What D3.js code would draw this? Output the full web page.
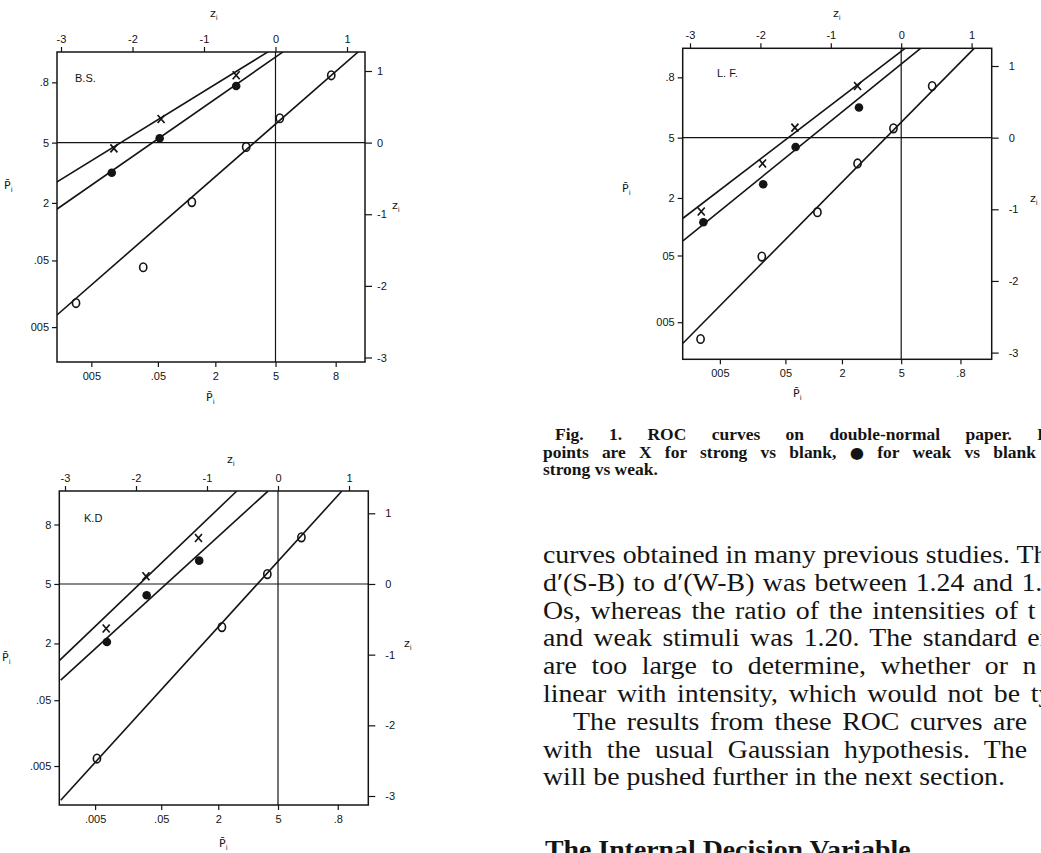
<!DOCTYPE html>
<html>
<head>
<meta charset="utf-8">
<script src="https://cdn.jsdelivr.net/npm/d3@7"></script>
<style>
  body { margin: 0; background: #fff; }
  svg { display: block; }
</style>
</head>
<body>
<script>
// axis ticks
const zTicks = [-3, -2, -1, 0, 1];
const pTicks = [0.005, 0.05, 0.2, 0.5, 0.8];

// tick labels as printed (order of pTicks)
const bsBottomLabels = ["005", ".05", "2", "5", "8"];
const bsLeftLabels = ["005", ".05", "2", "5", ".8"];
const lfBottomLabels = ["005", "05", "2", "5", ".8"];
const lfLeftLabels = ["005", "05", "2", "5", ".8"];
const kdBottomLabels = [".005", ".05", "2", "5", ".8"];
const kdLeftLabels = [".005", ".05", "2", "5", "8"];

// points in normal-deviate units [z(false alarm), z(hit)]
const bsStrongBlank = [[-2.26, -0.08], [-1.60, 0.33], [-0.55, 0.94]];
const bsWeakBlank = [[-2.29, -0.42], [-1.62, 0.06], [-0.55, 0.79]];
const bsStrongWeak = [[-2.79, -2.24], [-1.85, -1.74], [-1.17, -0.83], [-0.41, -0.06], [0.06, 0.34], [0.78, 0.94]];
const bsFitStrongBlank = [[-3.06, -0.55], [-0.10, 1.27]];
const bsFitWeakBlank = [[-3.06, -0.93], [0.11, 1.27]];
const bsFitStrongWeak = [[-3.06, -2.41], [1.16, 1.27]];

const lfStrongBlank = [[-2.84, -1.03], [-1.97, -0.36], [-1.51, 0.14], [-0.62, 0.72]];
const lfWeakBlank = [[-2.81, -1.18], [-1.96, -0.65], [-1.50, -0.13], [-0.60, 0.42]];
const lfStrongWeak = [[-2.85, -2.81], [-1.98, -1.66], [-1.19, -1.04], [-0.62, -0.36], [-0.11, 0.13], [0.44, 0.72]];
const lfFitStrongBlank = [[-3.10, -1.125], [0.06, 1.25]];
const lfFitWeakBlank = [[-3.10, -1.44], [0.28, 1.25]];
const lfFitStrongWeak = [[-3.10, -2.87], [1.04, 1.25]];

const kdStrongBlank = [[-2.42, -0.63], [-1.86, 0.11], [-1.12, 0.65]];
const kdWeakBlank = [[-2.41, -0.82], [-1.85, -0.16], [-1.11, 0.33]];
const kdStrongWeak = [[-2.55, -2.47], [-0.79, -0.61], [-0.15, 0.14], [0.33, 0.66]];
const kdFitStrongBlank = [[-3.08, -1.085], [-0.58, 1.315]];
const kdFitWeakBlank = [[-3.06, -1.36], [-0.14, 1.315]];
const kdFitStrongWeak = [[-3.06, -3.06], [0.90, 1.315]];

var ink = "#141414";

// normal cdf (A&S 7.1.26) and its inverse by bisection
function normCdf(z) {
  var x = Math.abs(z) / Math.SQRT2;
  var t = 1 / (1 + 0.3275911 * x);
  var e = 1 - ((((1.061405429 * t - 1.453152027) * t + 1.421413741) * t - 0.284496736) * t + 0.254829592) * t * Math.exp(-x * x);
  return z >= 0 ? (1 + e) / 2 : (1 - e) / 2;
}
function probit(p) {
  var lo = -6, hi = 6;
  for (var i = 0; i < 60; i++) {
    var m = (lo + hi) / 2;
    if (normCdf(m) < p) lo = m; else hi = m;
  }
  return (lo + hi) / 2;
}

var svg = d3.select("body").append("svg")
  .attr("width", 1041)
  .attr("height", 853);

var panels = [
  {
    id: "bs", name: "B.S.", box: [57, 52, 365, 362], xr: [61, 347], yr: [357.5, 71],
    pts: [bsStrongBlank, bsWeakBlank, bsStrongWeak],
    fits: [bsFitStrongBlank, bsFitWeakBlank, bsFitStrongWeak],
    bottomLabels: bsBottomLabels, leftLabels: bsLeftLabels, rightPad: 5,
    namePos: [75, 82], topTitle: [210, 17], leftTitle: [4, 189], bottomTitle: [206, 401], rightTitle: [392, 209]
  },
  {
    id: "lf", name: "L. F.", box: [682.7, 48.3, 991.7, 359.3], xr: [690, 971.6], yr: [352.6, 66],
    pts: [lfStrongBlank, lfWeakBlank, lfStrongWeak],
    fits: [lfFitStrongBlank, lfFitWeakBlank, lfFitStrongWeak],
    bottomLabels: lfBottomLabels, leftLabels: lfLeftLabels, rightPad: 10,
    namePos: [717, 77], topTitle: [833, 17], leftTitle: [622, 192], bottomTitle: [793, 397], rightTitle: [1030, 202]
  },
  {
    id: "kd", name: "K.D", box: [59.3, 491, 368.3, 805], xr: [65, 349], yr: [796, 513.3],
    pts: [kdStrongBlank, kdWeakBlank, kdStrongWeak],
    fits: [kdFitStrongBlank, kdFitWeakBlank, kdFitStrongWeak],
    bottomLabels: kdBottomLabels, leftLabels: kdLeftLabels, rightPad: 10,
    namePos: [84, 522], topTitle: [227, 463], leftTitle: [2, 661], bottomTitle: [219, 847], rightTitle: [404, 647]
  }
];

function title(g, pos, letter, bar) {
  var t = g.append("text")
    .attr("x", pos[0]).attr("y", pos[1])
    .attr("font-family", "DejaVu Sans, sans-serif")
    .attr("font-size", 11)
    .attr("fill", ink);
  t.append("tspan").text(bar ? letter + "\u0304" : letter);
  t.append("tspan").attr("dy", 3).attr("font-size", 7).text("i");
}

function styleAxis(a) {
  a.select(".domain").remove();
  a.selectAll(".tick line").attr("stroke", ink).attr("stroke-width", 1.2);
  a.selectAll(".tick text")
    .attr("fill", ink)
    .attr("font-family", "Liberation Sans, Arial, sans-serif")
    .attr("font-size", 11);
}

function drawPanel(p) {
  var x = d3.scaleLinear().domain([-3, 1]).range(p.xr);
  var y = d3.scaleLinear().domain([-3, 1]).range(p.yr);
  var left = p.box[0], top = p.box[1], right = p.box[2], bottom = p.box[3];
  var g = svg.append("g").attr("class", "panel-" + p.id);

  g.append("clipPath").attr("id", "clip-" + p.id)
    .append("rect")
    .attr("x", left).attr("y", top)
    .attr("width", right - left).attr("height", bottom - top);

  var pz = pTicks.map(probit);

  var topAx = g.append("g").attr("transform", "translate(0," + top + ")")
    .call(d3.axisTop(x).tickValues(zTicks).tickSize(5).tickPadding(4)
      .tickFormat(function(d) { return String(d); }));
  styleAxis(topAx);

  var rightAx = g.append("g").attr("transform", "translate(" + right + ",0)")
    .call(d3.axisRight(y).tickValues(zTicks).tickSize(7).tickPadding(p.rightPad)
      .tickFormat(function(d) { return String(d); }));
  styleAxis(rightAx);

  var bottomAx = g.append("g").attr("transform", "translate(0," + bottom + ")")
    .call(d3.axisBottom(x).tickValues(pz).tickSize(5).tickPadding(5)
      .tickFormat(function(d, i) { return p.bottomLabels[i]; }));
  styleAxis(bottomAx);

  var leftAx = g.append("g").attr("transform", "translate(" + left + ",0)")
    .call(d3.axisLeft(y).tickValues(pz).tickSize(5).tickPadding(3)
      .tickFormat(function(d, i) { return p.leftLabels[i]; }));
  styleAxis(leftAx);

  // frame and the z = 0 cross
  g.append("rect")
    .attr("x", left).attr("y", top)
    .attr("width", right - left).attr("height", bottom - top)
    .attr("fill", "none").attr("stroke", ink).attr("stroke-width", 1.5);
  g.append("line")
    .attr("x1", left).attr("x2", right).attr("y1", y(0)).attr("y2", y(0))
    .attr("stroke", ink).attr("stroke-width", 1.2);
  g.append("line")
    .attr("x1", x(0)).attr("x2", x(0)).attr("y1", top).attr("y2", bottom)
    .attr("stroke", ink).attr("stroke-width", 1.2);

  var line = d3.line().x(function(d) { return x(d[0]); }).y(function(d) { return y(d[1]); });
  g.append("g").attr("clip-path", "url(#clip-" + p.id + ")")
    .selectAll("path.fit")
    .data(p.fits)
    .enter()
    .append("path")
    .attr("class", "fit")
    .attr("d", line)
    .attr("fill", "none")
    .attr("stroke", ink)
    .attr("stroke-width", 1.6);

  // X for strong vs blank
  g.selectAll(".markX")
    .data(p.pts[0])
    .enter()
    .append("path")
    .attr("class", "markX")
    .attr("transform", function(d) { return "translate(" + x(d[0]) + "," + y(d[1]) + ")"; })
    .attr("d", "M-3.5,-4L3.5,4M3.5,-4L-3.5,4")
    .attr("stroke", ink)
    .attr("stroke-width", 1.7);

  // filled dot for weak vs blank
  g.selectAll(".markDot")
    .data(p.pts[1])
    .enter()
    .append("circle")
    .attr("class", "markDot")
    .attr("cx", function(d) { return x(d[0]); })
    .attr("cy", function(d) { return y(d[1]); })
    .attr("r", 4.3)
    .attr("fill", ink);

  // open circle for strong vs weak
  g.selectAll(".markO")
    .data(p.pts[2])
    .enter()
    .append("ellipse")
    .attr("class", "markO")
    .attr("cx", function(d) { return x(d[0]); })
    .attr("cy", function(d) { return y(d[1]); })
    .attr("rx", 3.6)
    .attr("ry", 4.3)
    .attr("fill", "none")
    .attr("stroke", ink)
    .attr("stroke-width", 1.6);

  g.append("text")
    .attr("x", p.namePos[0]).attr("y", p.namePos[1])
    .attr("font-family", "Liberation Sans, Arial, sans-serif")
    .attr("font-size", 11)
    .attr("fill", ink)
    .text(p.name);

  title(g, p.topTitle, "z", false);
  title(g, p.rightTitle, "z", false);
  title(g, p.leftTitle, "P", true);
  title(g, p.bottomTitle, "P", true);
}

panels.forEach(drawPanel);

// caption and running text beside the figure
var captionLines = [
  { text: "Fig. 1. ROC curves on double-normal paper. E", x: 555, y: 439.5, n: 7, end: 1012 },
  { text: "points are X for strong vs blank, \u25CF for weak vs blank", x: 543, y: 457.5, n: 11, end: 980 },
  { text: "strong vs weak.", x: 543, y: 474.5 }
];
var bodyLines = [
  { text: "curves obtained in many previous studies. Th", x: 543, n: 6, end: 1010 },
  { text: "d\u2032(S-B) to d\u2032(W-B) was between 1.24 and 1.", x: 543, n: 7, end: 1013 },
  { text: "Os, whereas the ratio of the intensities of t", x: 543, n: 8, end: 1018 },
  { text: "and weak stimuli was 1.20. The standard er", x: 543, n: 7, end: 1017 },
  { text: "are too large to determine, whether or n", x: 543, n: 7, end: 1008 },
  { text: "linear with intensity, which would not be ty", x: 543, n: 7, end: 1020 },
  { text: "The results from these ROC curves are", x: 573, n: 7, end: 1027 },
  { text: "with the usual Gaussian hypothesis. The h", x: 543, n: 6, end: 1027 },
  { text: "will be pushed further in the next section.", x: 543, n: 8, end: 1027 }
];

function fill(t, s) {
  // the bullet of the caption is set larger than the type
  t.html(s.replace("\u25CF", '<tspan font-family="DejaVu Sans" font-size="15.5">\u25CF</tspan>'));
}
function prefixOf(ln) {
  return ln.text.split(" ").slice(0, ln.n).join(" ");
}
function setLine(g, ln, sx) {
  var t = g.append("text").attr("fill", ink);
  if (ln.n) {
    fill(t, prefixOf(ln));
    var w = t.node().getComputedTextLength();
    var ws = Math.max(0, ((ln.end - ln.x) / sx - w) / (ln.n - 1));
    t.attr("word-spacing", ws);
  }
  fill(t, ln.text);
  return t;
}

var cap = svg.append("g")
  .attr("font-family", "Liberation Serif, Times New Roman, serif")
  .attr("font-weight", "bold")
  .attr("font-size", 16.5);
captionLines.forEach(function(ln) {
  var g = cap.append("g").attr("transform", "translate(" + ln.x + "," + ln.y + ") scale(1.06,1)");
  setLine(g, ln, 1.06);
});

var body = svg.append("g")
  .attr("font-family", "Liberation Serif, Times New Roman, serif")
  .attr("font-size", 25);
// horizontal stretch of the print: tightest line gets no extra spacing
var sx = d3.min(bodyLines, function(ln) {
  var probe = body.append("text").text(prefixOf(ln));
  var w = probe.node().getComputedTextLength();
  probe.remove();
  return (ln.end - ln.x) / w;
});
bodyLines.forEach(function(ln, i) {
  var g = body.append("g")
    .attr("transform", "translate(" + ln.x + "," + (563 + i * 27.8) + ") scale(" + sx + ",1)");
  setLine(g, i === bodyLines.length - 1 ? { text: ln.text, x: ln.x } : ln, sx);
});
body.append("g")
  .attr("transform", "translate(545,858) scale(" + sx + ",1)")
  .append("text")
  .attr("font-weight", "bold")
  .attr("fill", ink)
  .text("The Internal Decision Variable");
</script>
</body>
</html>
